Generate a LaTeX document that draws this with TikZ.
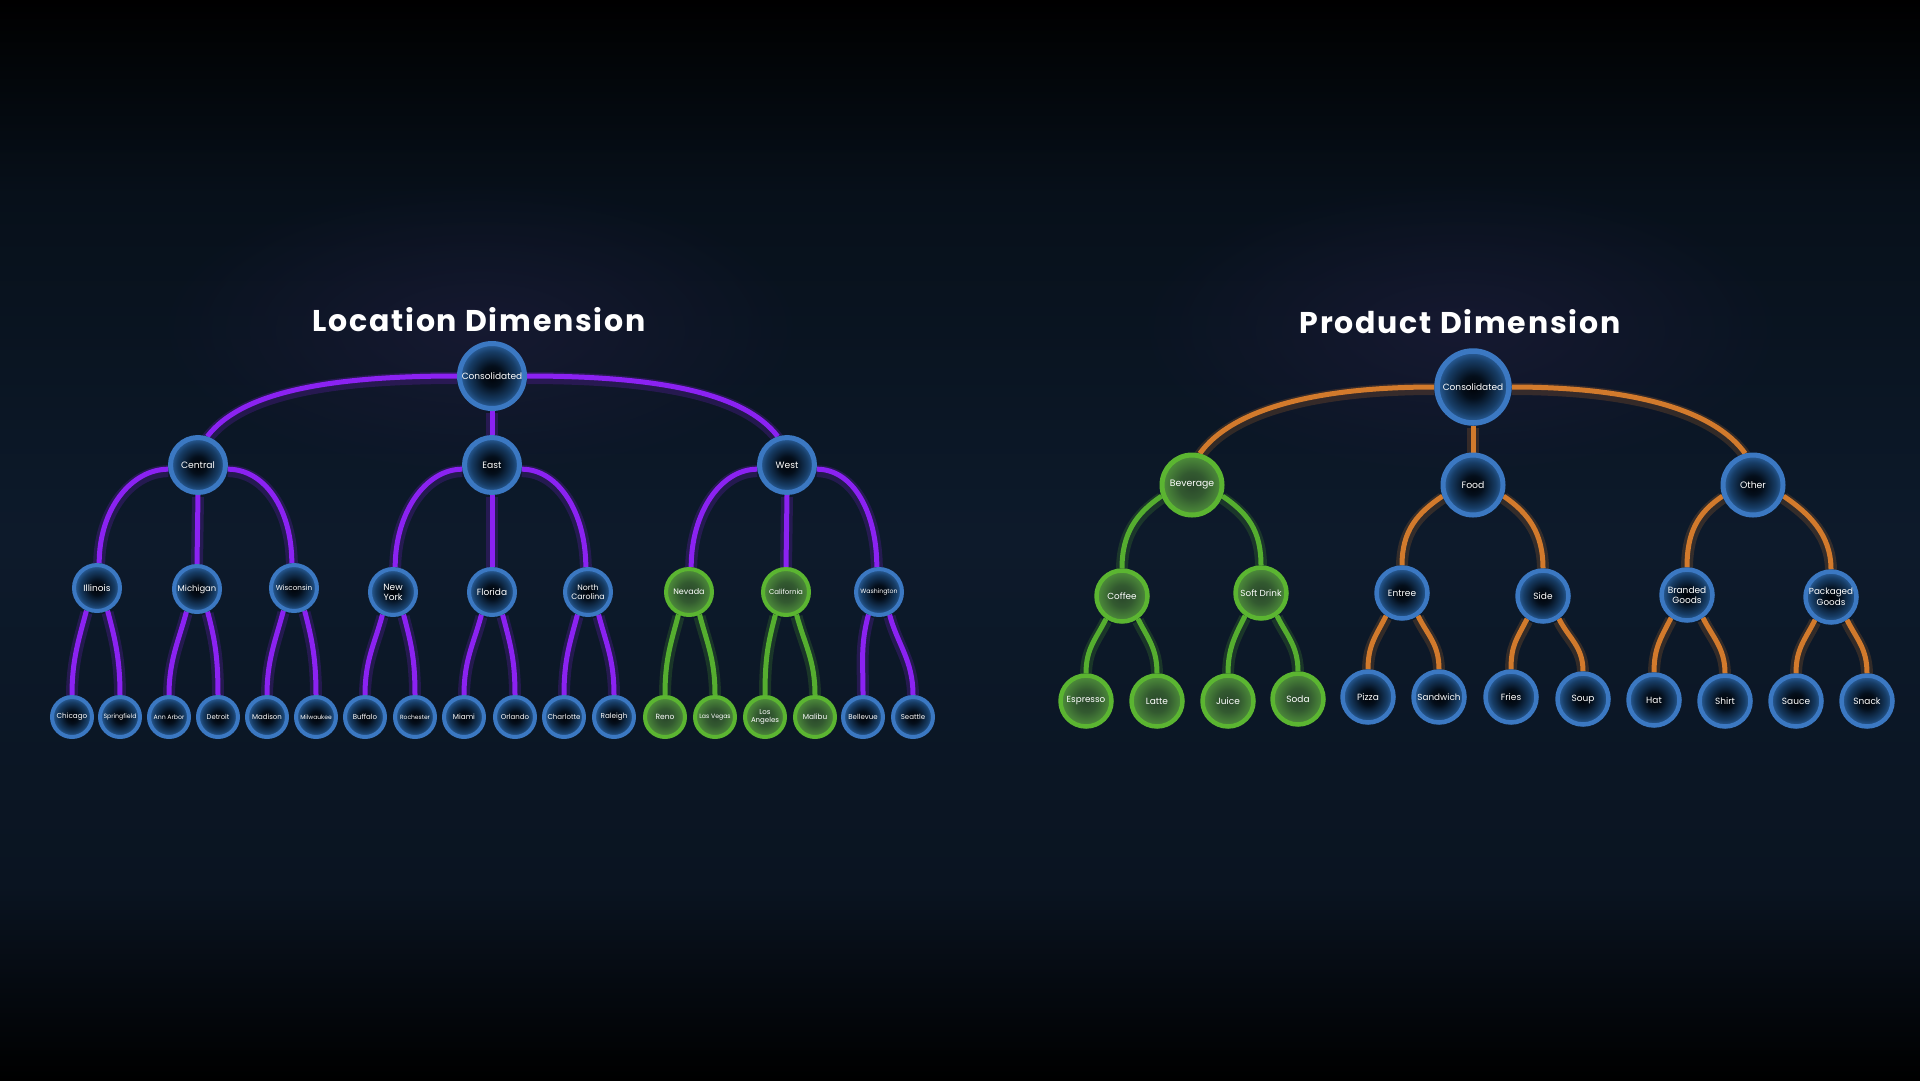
\documentclass[tikz,border=0pt]{standalone}
\usepackage{fontspec}
\setmainfont{Poppins}
\usetikzlibrary{fadings}
\definecolor{bgtop}{HTML}{000000}
\definecolor{bghigh}{HTML}{07101A}
\definecolor{bgmid}{HTML}{0D1A2B}
\definecolor{bglow}{HTML}{0A1421}
\definecolor{bgbot}{HTML}{000000}
\definecolor{titleglow}{HTML}{1D1C3A}
\definecolor{purp}{HTML}{8B22F2}
\definecolor{orng}{HTML}{D27A2C}
\definecolor{grn}{HTML}{55AE2F}
\definecolor{ringblue}{HTML}{3B78C2}
\definecolor{ringgreen}{HTML}{5BB531}
\definecolor{nbA}{HTML}{000207}
\definecolor{nbB}{HTML}{040F1C}
\definecolor{nbC}{HTML}{173D66}
\definecolor{nbD}{HTML}{2C62A0}
\definecolor{ngA}{HTML}{2A472B}
\definecolor{ngB}{HTML}{335A30}
\definecolor{ngD}{HTML}{4F903B}
\pgfdeclareverticalshading{bgv}{100bp}{color(0bp)=(bgbot); color(25bp)=(bgbot); color(34bp)=(bglow); color(50bp)=(bgmid); color(66bp)=(bghigh); color(75bp)=(bgtop); color(100bp)=(bgtop)}
\pgfdeclareradialshading{nodeblue}{\pgfpoint{0bp}{0bp}}{color(0bp)=(nbA); color(8bp)=(nbB); color(19bp)=(nbC); color(25bp)=(nbD); color(50bp)=(nbD)}
\pgfdeclareradialshading{nodegreen}{\pgfpoint{0bp}{0bp}}{color(0bp)=(ngA); color(11bp)=(ngB); color(25bp)=(ngD); color(50bp)=(ngD)}
\tikzfading[name=glowfade, inner color=transparent!35, outer color=transparent!100]
\pgfdeclarelayer{bg}
\pgfdeclarelayer{edges}
\pgfsetlayers{bg,edges,main}
\newcommand{\lnk}[5]{%
  \begin{pgfonlayer}{edges}
  \draw[#1,glow] (#2) .. controls +(#3) and +(#4) .. (#5);
  \draw[#1] (#2) .. controls +(#3) and +(#4) .. (#5);
  \end{pgfonlayer}}
\newcommand{\slnk}[3]{%
  \begin{pgfonlayer}{edges}
  \draw[#1,glow] (#2) -- (#3);
  \draw[#1] (#2) -- (#3);
  \end{pgfonlayer}}
\begin{document}
\begin{tikzpicture}[x=1pt,y=-1pt,
  bn/.style={circle, shade, shading=nodeblue, draw=ringblue, text=white, align=center, inner sep=0pt},
  gn/.style={circle, shade, shading=nodegreen, draw=ringgreen, text=white, align=center, inner sep=0pt},
  fz/.style={font=\fontsize{#1}{#1}\selectfont},
  lc/.style={minimum size=65pt, line width=5pt},
  lone/.style={minimum size=55pt, line width=5pt},
  ltwo/.style={minimum size=46pt, line width=4pt},
  lleaf/.style={minimum size=40pt, line width=4pt},
  pc/.style={minimum size=72pt, line width=5.5pt},
  pone/.style={minimum size=60pt, line width=5pt},
  ptwo/.style={minimum size=51pt, line width=4.5pt},
  pleaf/.style={minimum size=51pt, line width=4.5pt},
  pur/.style={draw=purp, line width=5pt},
  org/.style={draw=orng, line width=5pt},
  gre/.style={draw=grn, line width=5pt},
  glow/.style={line width=12pt, opacity=0.2, transform canvas={yshift=-2pt}},
  ttl/.style={text=white, font=\fontsize{30}{30}\selectfont\bfseries\addfontfeature{LetterSpace=6}}
]
\begin{pgfonlayer}{bg}
\shade[shading=bgv] (0,0) rectangle (1920,1080);
\fill[titleglow, path fading=glowfade] (480,330) ellipse (330 and 150);
\fill[titleglow, path fading=glowfade] (1460,330) ellipse (330 and 150);
\end{pgfonlayer}
\useasboundingbox (0,0) rectangle (1920,1080);

% ---------------- Location dimension ----------------
\node[ttl] (ltitle) at (479,320) {Location Dimension};
\node[bn,lc,fz=9] (LCons) at (492,376) {Consolidated};
\node[bn,lone,fz=9.2] (Central) at (198,465) {Central};
\node[bn,lone,fz=9.2] (East) at (492,465) {East};
\node[bn,lone,fz=9.2] (West) at (787,465) {West};
\node[bn,ltwo,fz=9] (Illinois) at (97,588) {Illinois};
\node[bn,ltwo,fz=8.4] (Michigan) at (197,589) {Michigan};
\node[bn,ltwo,fz=7.2] (Wisconsin) at (294,588) {Wisconsin};
\node[bn,ltwo,fz=9] (NewYork) at (393,592) {New\\[1pt]York};
\node[bn,ltwo,fz=9] (Florida) at (492,592) {Florida};
\node[bn,ltwo,fz=7.8] (NCarolina) at (588,592) {North\\[1pt]Carolina};
\node[gn,ltwo,fz=8] (Nevada) at (689,592) {Nevada};
\node[gn,ltwo,fz=7] (California) at (786,592) {California};
\node[bn,ltwo,fz=6.2] (Washington) at (879,592) {Washington};
\node[bn,lleaf,fz=7.2] (Chicago) at (72,717) {Chicago};
\node[bn,lleaf,fz=6.2] (Springfield) at (120,717) {Springfield};
\node[bn,lleaf,fz=6.2] (AnnArbor) at (169,717) {Ann Arbor};
\node[bn,lleaf,fz=6.8] (Detroit) at (218,717) {Detroit};
\node[bn,lleaf,fz=7] (Madison) at (267,717) {Madison};
\node[bn,lleaf,fz=6] (Milwaukee) at (316,717) {Milwaukee};
\node[bn,lleaf,fz=7] (Buffalo) at (365,717) {Buffalo};
\node[bn,lleaf,fz=6] (Rochester) at (415,717) {Rochester};
\node[bn,lleaf,fz=7.2] (Miami) at (464,717) {Miami};
\node[bn,lleaf,fz=7] (Orlando) at (515,717) {Orlando};
\node[bn,lleaf,fz=7] (Charlotte) at (564,717) {Charlotte};
\node[bn,lleaf,fz=7.2] (Raleigh) at (614,717) {Raleigh};
\node[gn,lleaf,fz=7.5] (Reno) at (665,717) {Reno};
\node[gn,lleaf,fz=6.2] (LasVegas) at (715,717) {Las Vegas};
\node[gn,lleaf,fz=7] (LosAngeles) at (765,717) {Los\\[0.5pt]Angeles};
\node[gn,lleaf,fz=7.3] (Malibu) at (815,717) {Malibu};
\node[bn,lleaf,fz=7] (Bellevue) at (863,717) {Bellevue};
\node[bn,lleaf,fz=7] (Seattle) at (913,717) {Seattle};

\lnk{pur}{LCons.west}{-137,0}{32,-42}{Central.72}
\lnk{pur}{LCons.east}{137,0}{-32,-42}{West.108}
\slnk{pur}{LCons.south}{East.north}
\lnk{pur}{Central.188}{-37,0}{0,-54}{Illinois.85}
\slnk{pur}{Central.south}{Michigan.north}
\lnk{pur}{Central.352}{37,0}{0,-54}{Wisconsin.95}
\lnk{pur}{East.188}{-37,0}{0,-54}{NewYork.85}
\slnk{pur}{East.south}{Florida.north}
\lnk{pur}{East.352}{37,0}{0,-54}{NCarolina.95}
\lnk{pur}{West.188}{-37,0}{0,-54}{Nevada.85}
\slnk{pur}{West.south}{California.north}
\lnk{pur}{West.352}{37,0}{0,-54}{Washington.95}
\lnk{pur}{Illinois.245}{-8,30}{0,-35}{Chicago.north}
\lnk{pur}{Illinois.295}{8,30}{0,-35}{Springfield.north}
\lnk{pur}{Michigan.245}{-8,30}{0,-35}{AnnArbor.north}
\lnk{pur}{Michigan.295}{8,30}{0,-35}{Detroit.north}
\lnk{pur}{Wisconsin.245}{-8,30}{0,-35}{Madison.north}
\lnk{pur}{Wisconsin.295}{8,30}{0,-35}{Milwaukee.north}
\lnk{pur}{NewYork.245}{-8,30}{0,-35}{Buffalo.north}
\lnk{pur}{NewYork.295}{8,30}{0,-35}{Rochester.north}
\lnk{pur}{Florida.245}{-8,30}{0,-35}{Miami.north}
\lnk{pur}{Florida.295}{8,30}{0,-35}{Orlando.north}
\lnk{pur}{NCarolina.245}{-8,30}{0,-35}{Charlotte.north}
\lnk{pur}{NCarolina.295}{8,30}{0,-35}{Raleigh.north}
\lnk{gre}{Nevada.245}{-8,30}{0,-35}{Reno.north}
\lnk{gre}{Nevada.295}{8,30}{0,-35}{LasVegas.north}
\lnk{gre}{California.245}{-8,30}{0,-35}{LosAngeles.north}
\lnk{gre}{California.295}{8,30}{0,-35}{Malibu.north}
\lnk{pur}{Washington.245}{-8,30}{0,-35}{Bellevue.north}
\lnk{pur}{Washington.295}{8,30}{0,-35}{Seattle.north}

% ---------------- Product dimension ----------------
\node[ttl] (ptitle) at (1460,322) {Product Dimension};
\node[bn,pc,fz=9] (PCons) at (1473,387) {Consolidated};
\node[gn,pone,fz=9.3] (Beverage) at (1192,485) {Beverage};
\node[bn,pone,fz=9.3] (Food) at (1473,485) {Food};
\node[bn,pone,fz=9.3] (Other) at (1753,485) {Other};
\node[gn,ptwo,fz=8.8] (Coffee) at (1122,596) {Coffee};
\node[gn,ptwo,fz=8.8] (SoftDrink) at (1261,593) {Soft Drink};
\node[bn,ptwo,fz=9] (Entree) at (1402,593) {Entree};
\node[bn,ptwo,fz=9] (Side) at (1543,596) {Side};
\node[bn,ptwo,fz=9] (Branded) at (1687,595) {Branded\\[1pt]Goods};
\node[bn,ptwo,fz=8.8] (Packaged) at (1831,597) {Packaged\\[1pt]Goods};
\node[gn,pleaf,fz=8.8] (Espresso) at (1086,701) {Espresso};
\node[gn,pleaf,fz=9] (Latte) at (1157,701) {Latte};
\node[gn,pleaf,fz=9] (Juice) at (1228,701) {Juice};
\node[gn,pleaf,fz=9] (Soda) at (1298,699) {Soda};
\node[bn,pleaf,fz=9] (Pizza) at (1368,697) {Pizza};
\node[bn,pleaf,fz=8.8] (Sandwich) at (1439,697) {Sandwich};
\node[bn,pleaf,fz=9] (Fries) at (1511,697) {Fries};
\node[bn,pleaf,fz=9] (Soup) at (1583,699) {Soup};
\node[bn,pleaf,fz=9] (Hat) at (1654,700) {Hat};
\node[bn,pleaf,fz=9] (Shirt) at (1725,701) {Shirt};
\node[bn,pleaf,fz=9] (Sauce) at (1796,701) {Sauce};
\node[bn,pleaf,fz=9] (Snack) at (1867,701) {Snack};

\lnk{org}{PCons.west}{-125,0}{30,-42}{Beverage.76}
\lnk{org}{PCons.east}{125,0}{-30,-42}{Other.104}
\slnk{org}{PCons.south}{Food.north}
\lnk{gre}{Beverage.200}{-25,17}{0,-35}{Coffee.north}
\lnk{gre}{Beverage.340}{25,17}{0,-35}{SoftDrink.north}
\lnk{org}{Food.200}{-25,17}{0,-35}{Entree.north}
\lnk{org}{Food.340}{25,17}{0,-35}{Side.north}
\lnk{org}{Other.200}{-25,17}{0,-35}{Branded.north}
\lnk{org}{Other.340}{25,17}{0,-35}{Packaged.north}
\lnk{gre}{Coffee.235}{-10,20}{0,-25}{Espresso.north}
\lnk{gre}{Coffee.305}{10,20}{0,-25}{Latte.north}
\lnk{gre}{SoftDrink.235}{-10,20}{0,-25}{Juice.north}
\lnk{gre}{SoftDrink.305}{10,20}{0,-25}{Soda.north}
\lnk{org}{Entree.235}{-10,20}{0,-25}{Pizza.north}
\lnk{org}{Entree.305}{10,20}{0,-25}{Sandwich.north}
\lnk{org}{Side.235}{-10,20}{0,-25}{Fries.north}
\lnk{org}{Side.305}{10,20}{0,-25}{Soup.north}
\lnk{org}{Branded.235}{-10,20}{0,-25}{Hat.north}
\lnk{org}{Branded.305}{10,20}{0,-25}{Shirt.north}
\lnk{org}{Packaged.235}{-10,20}{0,-25}{Sauce.north}
\lnk{org}{Packaged.305}{10,20}{0,-25}{Snack.north}
\end{tikzpicture}
\end{document}
